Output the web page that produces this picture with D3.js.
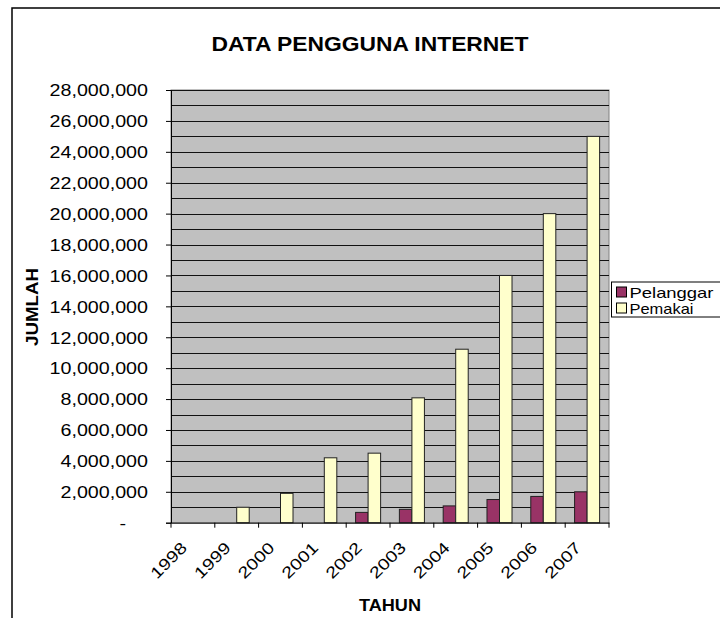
<!DOCTYPE html>
<meta charset="utf-8">
<style>
  body { margin: 0; background: #fff; }
  text { font-family: "Liberation Sans", Arial, sans-serif; fill: #000; }
</style>
<svg width="720" height="618"></svg>
<script src="https://cdnjs.cloudflare.com/ajax/libs/d3/7.8.5/d3.min.js"></script>
<script>

  var years = ['1998','1999','2000','2001','2002','2003','2004','2005','2006','2007'];
  var seriesNames = ['Pelanggan', 'Pemakai'];
  var legendLabels = ['Pelanggar', 'Pemakai'];
  var pelanggan = [0, 0, 0, 0, 667000, 865000, 1087000, 1500000, 1700000, 2000000];
  var pemakai = [0, 1000000, 1900000, 4200000, 4500000, 8080000, 11226000, 16000000, 20000000, 25000000];
  var yMax = 28000000;

  var colors = { Pelanggan: '#993366', Pemakai: '#ffffcc' };

  var svg = d3.select('svg'),
  plotLeft = 171, plotRight = 609, plotTop = 90, plotBottom = 522.7;

  // outer chart frame (runs off the right and bottom)
  svg.append('rect')
  .attr('x', 12).attr('y', 8).attr('width', 730).attr('height', 640)
  .attr('fill', '#fff').attr('stroke', '#000').attr('stroke-width', 1.5);

  var x = d3.scaleBand().domain(years).range([plotLeft, plotRight]);
  var step = x.bandwidth();
  // excel style: gap width 150% between groups
  var xs = d3.scaleBand().domain(seriesNames).range([step * 0.75 / 3.5, step - step * 0.75 / 3.5]);
  var y = d3.scaleLinear().domain([0, yMax]).range([plotBottom, plotTop]);

  // plot area
  svg.append('rect')
  .attr('x', plotLeft).attr('y', plotTop).attr('width', plotRight - plotLeft).attr('height', plotBottom - plotTop)
  .attr('fill', '#c0c0c0').attr('stroke', '#808080').attr('stroke-width', 1);

  // gridlines every 1,000,000
  svg.append('g')
  .selectAll('line')
  .data(d3.range(1000000, yMax + 1, 1000000))
  .enter().append('line')
  .attr('x1', plotLeft).attr('x2', plotRight)
  .attr('y1', d => Math.round(y(d)) + 0.5).attr('y2', d => Math.round(y(d)) + 0.5)
  .attr('stroke', '#111').attr('stroke-width', 1);

  var rows = years.map(function(yr, i) {
    return { year: yr, values: [
      { key: 'Pelanggan', value: pelanggan[i] },
      { key: 'Pemakai', value: pemakai[i] }
    ] };
  });

  svg.append('g')
  .selectAll('g')
  .data(rows)
  .enter().append('g')
  .attr('transform', d => 'translate(' + x(d.year) + ',0)')
  .selectAll('rect')
  .data(d => d.values.filter(v => v.value > 0))
  .enter().append('rect')
  .attr('x', d => xs(d.key))
  .attr('width', xs.bandwidth())
  .attr('y', d => y(d.value))
  .attr('height', d => y(0) - y(d.value))
  .attr('fill', d => colors[d.key])
  .attr('stroke', '#222').attr('stroke-width', 1);

  // y axis
  var yAxis = svg.append('g')
  .attr('transform', 'translate(' + plotLeft + ',0)')
  .call(d3.axisLeft(y).tickValues(d3.range(0, yMax + 1, 2000000)).tickSize(5).tickPadding(0)
    .tickFormat(d => d === 0 ? '-' : d3.format(',')(d)));
  yAxis.select('.domain').attr('stroke', '#000');
  yAxis.selectAll('.tick line').attr('stroke', '#000');
  yAxis.selectAll('.tick text')
  .attr('x', null).attr('dy', '0.36em')
  .attr('font-size', 16)
  .attr('transform', d => d === 0 ? 'translate(-45,0) scale(1.23,1)' : 'translate(-23,0) scale(1.23,1)');

  // x axis
  var xAxis = svg.append('g')
  .attr('transform', 'translate(0,' + plotBottom + ')')
  .call(d3.axisBottom(x).tickSize(0).tickFormat(''));
  xAxis.select('.domain').attr('stroke', '#000');
  xAxis.selectAll('.tick').remove();
  xAxis.selectAll('line.sep')
  .data(d3.range(years.length + 1))
  .enter().append('line')
  .attr('class', 'sep')
  .attr('x1', i => plotLeft + i * step).attr('x2', i => plotLeft + i * step)
  .attr('y1', 0).attr('y2', 5)
  .attr('stroke', '#000');

  svg.append('g')
  .selectAll('text')
  .data(years)
  .enter().append('text')
  .attr('transform', d => 'translate(' + (x(d) + step / 2 - 5) + ',' + (plotBottom + 26) + ') rotate(-45) scale(1.23,1)')
  .attr('text-anchor', 'end')
  .attr('font-size', 16)
  .text(d => d);

  // titles
  svg.append('text')
  .attr('x', 370).attr('y', 51)
  .attr('text-anchor', 'middle')
  .attr('font-size', 20).attr('font-weight', 'bold')
  .attr('textLength', 317).attr('lengthAdjust', 'spacingAndGlyphs')
  .text('DATA PENGGUNA INTERNET');

  svg.append('text')
  .attr('x', 390).attr('y', 611)
  .attr('text-anchor', 'middle')
  .attr('font-size', 16).attr('font-weight', 'bold')
  .attr('textLength', 62).attr('lengthAdjust', 'spacingAndGlyphs')
  .text('TAHUN');

  svg.append('text')
  .attr('transform', 'translate(38,307) rotate(-90)')
  .attr('text-anchor', 'middle')
  .attr('font-size', 16).attr('font-weight', 'bold')
  .attr('textLength', 78).attr('lengthAdjust', 'spacingAndGlyphs')
  .text('JUMLAH');

  // legend
  var legend = svg.append('g').attr('transform', 'translate(611.5,282)');
  legend.append('rect')
  .attr('x', 0).attr('y', 0).attr('width', 130).attr('height', 35)
  .attr('fill', '#fff').attr('stroke', '#000').attr('stroke-width', 1);
  var item = legend.selectAll('g.item')
  .data(seriesNames)
  .enter().append('g')
  .attr('class', 'item')
  .attr('transform', (d, i) => 'translate(5,' + (5 + i * 16) + ')');
  item.append('rect')
  .attr('width', 10).attr('height', 10)
  .attr('fill', d => colors[d]).attr('stroke', '#000');
  item.append('text')
  .attr('x', 13).attr('y', 10.5)
  .attr('font-size', 15)
  .attr('textLength', (d, i) => i === 0 ? 84 : 64).attr('lengthAdjust', 'spacingAndGlyphs')
  .text((d, i) => legendLabels[i]);

</script>
